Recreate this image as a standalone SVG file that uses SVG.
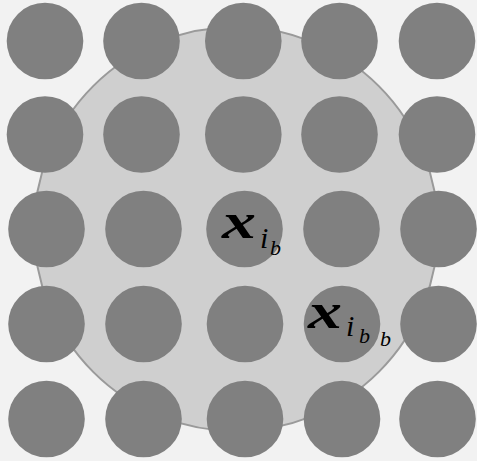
<svg xmlns="http://www.w3.org/2000/svg" width="477" height="461" viewBox="0 0 477 461">
<style>
.dot{fill:#808080}
</style>
<rect width="477" height="461" fill="#f2f2f2"/>
<g id="region"><circle cx="236" cy="229" r="202" fill="#cfcfcf" stroke="#9a9a9a" stroke-width="2"/></g>
<g id="points">
<circle class="dot" cx="45" cy="41" r="38.3"/>
<circle class="dot" cx="141.5" cy="41" r="38.3"/>
<circle class="dot" cx="243.3" cy="41" r="38.3"/>
<circle class="dot" cx="339.5" cy="41" r="38.3"/>
<circle class="dot" cx="437" cy="41" r="38.3"/>
<circle class="dot" cx="45" cy="134.5" r="38.3"/>
<circle class="dot" cx="141.5" cy="134.5" r="38.3"/>
<circle class="dot" cx="243.3" cy="134.5" r="38.3"/>
<circle class="dot" cx="339.5" cy="134.5" r="38.3"/>
<circle class="dot" cx="437" cy="134.5" r="38.3"/>
<circle class="dot" cx="46.5" cy="229" r="38.3"/>
<circle class="dot" cx="143.5" cy="229" r="38.3"/>
<circle class="dot" cx="244.5" cy="229" r="38.3"/>
<circle class="dot" cx="341.5" cy="229" r="38.3"/>
<circle class="dot" cx="438.5" cy="229" r="38.3"/>
<circle class="dot" cx="46.5" cy="324" r="38.3"/>
<circle class="dot" cx="143.5" cy="324" r="38.3"/>
<circle class="dot" cx="245" cy="324" r="38.3"/>
<circle class="dot" cx="342" cy="324" r="38.3"/>
<circle class="dot" cx="438.5" cy="324" r="38.3"/>
<circle class="dot" cx="46.5" cy="419" r="38.3"/>
<circle class="dot" cx="143.5" cy="419" r="38.3"/>
<circle class="dot" cx="245" cy="419" r="38.3"/>
<circle class="dot" cx="342" cy="419" r="38.3"/>
<circle class="dot" cx="437.5" cy="419" r="38.3"/>
</g>
<g id="label-ib" font-family="'Liberation Serif', serif" fill="#000" font-style="italic">
<text x="222" y="238" font-size="50" font-weight="bold" textLength="34" lengthAdjust="spacingAndGlyphs">x</text>
<text x="260" y="248" font-size="30">i</text>
<text x="270" y="255" font-size="22">b</text>
</g>
<g id="label-ibb" font-family="'Liberation Serif', serif" fill="#000" font-style="italic">
<text x="308" y="328" font-size="50" font-weight="bold" textLength="34" lengthAdjust="spacingAndGlyphs">x</text>
<text x="346" y="336" font-size="30">i</text>
<text x="359" y="343" font-size="22">b</text>
<text x="380" y="346" font-size="22">b</text>
</g>
</svg>
